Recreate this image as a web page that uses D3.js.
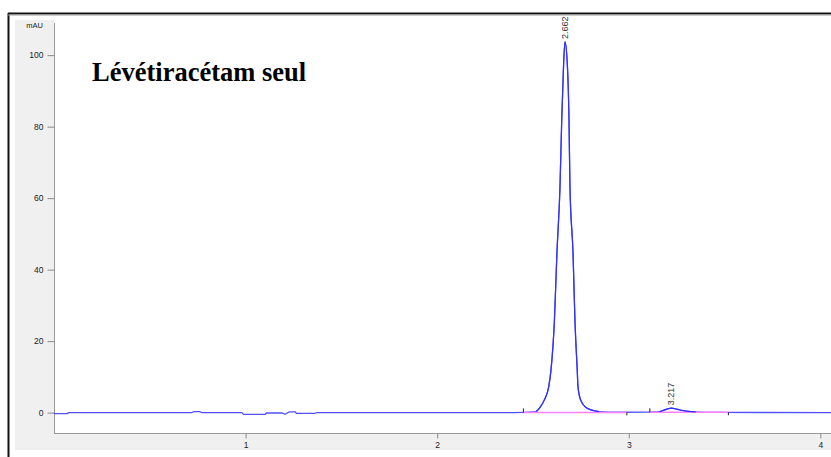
<!DOCTYPE html>
<html>
<head>
<meta charset="utf-8">
<script src="https://cdn.jsdelivr.net/npm/d3@7"></script>
<style>
  body { margin: 0; background: #fff; }
  svg { display: block; }
  .tick text { font-family: "Liberation Sans", Arial, sans-serif; font-size: 8.5px; fill: #222; }
</style>
</head>
<body>
<svg id="chart" width="831" height="457"></svg>
<script>
// retention time (min) and signal (mAU)
var times = [0, 0.005, 0.07, 0.075, 0.72, 0.73, 0.76, 0.77, 0.98, 0.99, 1.10, 1.11, 1.19, 1.205, 1.23, 1.26, 1.265, 1.36, 1.37, 2.40,
	2.516, 2.533, 2.559, 2.582, 2.594, 2.612, 2.625, 2.641, 2.650, 2.660, 2.667, 2.679, 2.688, 2.693, 2.709, 2.719, 2.731, 2.735, 2.749, 2.783, 2.844,
	2.95, 3.10, 3.16, 3.18, 3.20, 3.222, 3.25, 3.28, 3.31, 3.35, 3.45, 4.06];
var signal = [0, -0.3, -0.3, 0, 0, 0.3, 0.3, 0, 0, -0.5, -0.5, -0.1, -0.1, -0.4, 0.2, 0.2, -0.2, -0.2, 0, 0,
	0.3, 1.2, 3.5, 7.2, 11.9, 25.9, 44.6, 63.2, 81.8, 97.7, 103.7, 97.7, 81.8, 63.2, 44.6, 25.9, 11.9, 7.2, 3.5, 1.2, 0.3,
	0.1, 0.15, 0.25, 0.6, 1.0, 1.25, 1.0, 0.6, 0.35, 0.2, 0.05, 0];

// peaks: retention time label, apex
var peakLabels = ["2.662", "3.217"];
var peakApexT = [2.667, 3.222];
var peakApexV = [103.7, 1.25];

// integration baselines [start, end]
var integStart = [2.45, 3.11];
var integEnd = [2.99, 3.52];
var integLevel = [0.05, 0.1];

var yMajor = [0, 20, 40, 60, 80, 100];
var xMajor = [1, 2, 3, 4];

var svg = d3.select("#chart");

// frame & panels
svg.append("rect").attr("x", 15).attr("y", 20).attr("width", 39).attr("height", 430).attr("fill", "#f0f0f0");
svg.append("rect").attr("x", 15).attr("y", 433).attr("width", 816).attr("height", 17).attr("fill", "#f0f0f0");
svg.append("line").attr("x1", 8.5).attr("x2", 8.5).attr("y1", 13).attr("y2", 457).attr("stroke", "#111").attr("stroke-width", 2);
svg.append("line").attr("x1", 8).attr("x2", 831).attr("y1", 13.5).attr("y2", 13.5).attr("stroke", "#111").attr("stroke-width", 2);
svg.append("line").attr("x1", 8).attr("x2", 831).attr("y1", 15).attr("y2", 15).attr("stroke", "#999").attr("stroke-width", 1);

var x = d3.scaleLinear().domain([0, 4.0555]).range([54, 831]);
var y = d3.scaleLinear().domain([-5.7, 109]).range([433, 23]);

// y axis
var yMinor = d3.range(-5, 110, 5).filter(function(v) { return yMajor.indexOf(v) < 0; });
var ga = svg.append("g").attr("transform", "translate(54.5,0)");
ga.call(d3.axisLeft(y).tickValues(yMinor).tickSize(3).tickFormat(""));
ga.call(d3.axisLeft(y).tickValues(yMajor).tickSize(7).tickPadding(4).tickFormat(d3.format("d")));
ga.selectAll("path").remove();
ga.selectAll("line").attr("stroke", "#888");
svg.append("line").attr("x1", 54.5).attr("x2", 54.5).attr("y1", 23).attr("y2", 433).attr("stroke", "#999");

// x axis
var xMinor = d3.range(0.2, 4.05, 0.2).filter(function(v) { return Math.abs(v - Math.round(v)) > 0.01; });
var gb = svg.append("g").attr("transform", "translate(0,433.5)");
gb.call(d3.axisBottom(x).tickValues(xMinor).tickSize(2).tickFormat(""));
gb.call(d3.axisBottom(x).tickValues(xMajor).tickSize(5).tickPadding(3).tickFormat(d3.format("d")));
gb.selectAll("path").remove();
gb.selectAll("line").attr("stroke", "#888");
svg.append("line").attr("x1", 54).attr("x2", 831).attr("y1", 433.5).attr("y2", 433.5).attr("stroke", "#999");

svg.append("text").attr("x", 43).attr("y", 28).attr("text-anchor", "end")
	.style("font-family", "Liberation Sans, Arial, sans-serif").style("font-size", "7.5px").attr("fill", "#222").text("mAU");

// trace
var pts = times.map(function(t, i) { return [t, signal[i]]; });
var line = d3.line().x(function(d) { return x(d[0]); }).y(function(d) { return y(d[1]); }).curve(d3.curveMonotoneX);
svg.append("path").datum(pts).attr("d", line).attr("fill", "none").attr("stroke", "#5050ff").attr("stroke-width", 1.3);

// integration baselines and markers
integStart.forEach(function(s, i) {
	svg.append("line").attr("x1", x(s)).attr("x2", x(integEnd[i])).attr("y1", y(integLevel[i])).attr("y2", y(integLevel[i]))
		.attr("stroke", "#ff80ff").attr("stroke-width", 1.5);
	svg.append("line").attr("x1", x(s)).attr("x2", x(s)).attr("y1", y(integLevel[i]) - 4).attr("y2", y(integLevel[i])).attr("stroke", "#222");
	svg.append("line").attr("x1", x(integEnd[i])).attr("x2", x(integEnd[i])).attr("y1", y(integLevel[i])).attr("y2", y(integLevel[i]) + 3).attr("stroke", "#222");
});

// redraw the peaks over the pink line
svg.append("path").datum(pts.slice(20, 41)).attr("d", line).attr("fill", "none").attr("stroke", "#3030ff").attr("stroke-width", 1.2);
svg.append("path").datum(pts.slice(43, 51)).attr("d", line).attr("fill", "none").attr("stroke", "#3030ff").attr("stroke-width", 1.2);

// peak labels
peakLabels.forEach(function(lbl, i) {
	var px = x(peakApexT[i]), py = y(peakApexV[i]) - 3;
	svg.append("text").attr("transform", "translate(" + px + "," + py + ") rotate(-90)")
		.attr("dy", "0.35em")
		.style("font-family", "Liberation Sans, Arial, sans-serif").style("font-size", "9px").attr("fill", "#333").text(lbl);
});

// title
svg.append("text").attr("x", 92).attr("y", 81)
	.style("font-family", "Liberation Serif, Times New Roman, serif").style("font-weight", "bold").style("font-size", "26.5px")
	.attr("fill", "#000").text("Lévétiracétam seul");
</script>
</body>
</html>
